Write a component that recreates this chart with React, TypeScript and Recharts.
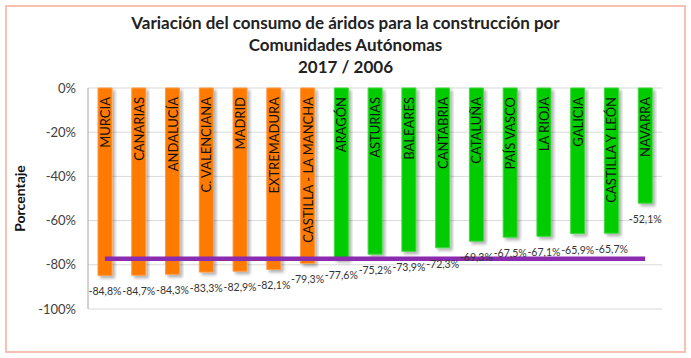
import { Bar, Line, XAxis, YAxis, CartesianGrid, Cell, LabelList, ComposedChart } from 'recharts';

const categories = [
  'MURCIA', 'CANARIAS', 'ANDALUCÍA', 'C. VALENCIANA', 'MADRID', 'EXTREMADURA',
  'CASTILLA - LA MANCHA', 'ARAGÓN', 'ASTURIAS', 'BALEARES', 'CANTABRIA', 'CATALUÑA',
  'PAÍS VASCO', 'LA RIOJA', 'GALICIA', 'CASTILLA Y LEÓN', 'NAVARRA',
];
const variation = [
  -84.8, -84.7, -84.3, -83.3, -82.9, -82.1, -79.3, -77.6, -75.2, -73.9, -72.3, -69.3,
  -67.5, -67.1, -65.9, -65.7, -52.1,
];
// línea horizontal de referencia (media nacional aprox.)
const nationalLine = [
  -77.3, -77.3, -77.3, -77.3, -77.3, -77.3, -77.3, -77.3, -77.3, -77.3, -77.3, -77.3,
  -77.3, -77.3, -77.3, -77.3, -77.3,
];
// true = por debajo de la media (naranja)
const belowAverage = [
  true, true, true, true, true, true, true, false, false, false, false, false,
  false, false, false, false, false,
];
const yTicks = [0, -20, -40, -60, -80, -100];

const data = categories.map((name, i) => ({
  name,
  value: variation[i],
  national: nationalLine[i],
  below: belowAverage[i],
}));

const FONT = 'Lato, "Open Sans", sans-serif';
const PLOT_LEFT = 88;
const PLOT_RIGHT = 662;
const PLOT_TOP = 88;
const PLOT_BOTTOM = 309;
const STEP = (PLOT_RIGHT - PLOT_LEFT) / categories.length;

const fmt = (v: number) => v.toFixed(1).replace('.', ',') + '%';

const CategoryTick = (props: any) => {
  const { x, index } = props;
  const left = x - STEP / 2;
  return (
    <g>
      <line x1={left} x2={left} y1={PLOT_TOP - 4} y2={PLOT_TOP} stroke="#a6a6a6" />
      {index === categories.length - 1 && (
        <line x1={left + STEP} x2={left + STEP} y1={PLOT_TOP - 4} y2={PLOT_TOP} stroke="#a6a6a6" />
      )}
    </g>
  );
};

const NameLabel = (props: any) => {
  const { x, y, width, height, value } = props;
  const top = Math.min(y, y + height);
  const cx = x + width / 2;
  return (
    <text
      x={cx}
      y={top + 9}
      transform={`rotate(-90, ${cx}, ${top + 9})`}
      textAnchor="end"
      dominantBaseline="central"
      fontFamily={FONT}
      fontSize={13}
      fill="#111"
    >
      {value}
    </text>
  );
};

const ValueLabel = (props: any) => {
  const { x, y, width, height, value } = props;
  const bottom = Math.max(y, y + height);
  return (
    <text
      x={x + width / 2}
      y={bottom + 16}
      textAnchor="middle"
      dominantBaseline="central"
      fontFamily={FONT}
      fontSize={10.5}
      fill="#333"
    >
      {fmt(value)}
    </text>
  );
};

export default function App() {
  return (
    <div style={{ position: 'fixed', left: 0, top: 0, width: 691, height: 358, background: '#fff' }}>
      <div
        style={{
          position: 'absolute',
          left: 5,
          top: 5,
          width: 677,
          height: 344,
          border: '2px solid #f8c0b0',
        }}
      />
      <div
        style={{
          position: 'absolute',
          left: 0,
          top: 12,
          width: 691,
          textAlign: 'center',
          fontFamily: FONT,
          fontWeight: 'bold',
          fontSize: 17,
          lineHeight: '22px',
          color: '#222',
        }}
      >
        Variación del consumo de áridos para la construcción por
        <br />
        Comunidades Autónomas
        <br />
        2017 / 2006
      </div>
      <div style={{ position: 'absolute', left: 0, top: 0 }}>
        <ComposedChart
          width={691}
          height={358}
          data={data}
          margin={{ top: PLOT_TOP, right: 691 - PLOT_RIGHT, bottom: 358 - PLOT_BOTTOM, left: 8 }}
        >
          <defs>
            <filter id="barShadow" x="-30%" y="-10%" width="160%" height="120%">
              <feDropShadow dx="2.5" dy="2.5" stdDeviation="1.5" floodColor="#000" floodOpacity="0.3" />
            </filter>
          </defs>
          <CartesianGrid horizontal vertical={false} stroke="#d9d9d9" />
          <XAxis
            dataKey="name"
            orientation="top"
            height={0}
            axisLine={{ stroke: '#a6a6a6' }}
            tickLine={false}
            tick={<CategoryTick />}
            interval={0}
          />
          <YAxis
            domain={[-100, 0]}
            ticks={yTicks}
            width={80}
            tickFormatter={(v: number) => `${v}%`}
            tick={{ fontFamily: FONT, fontSize: 13, fill: '#404040' }}
            axisLine={{ stroke: '#a6a6a6' }}
            tickLine={false}
            tickMargin={6}
            label={{
              value: 'Porcentaje',
              angle: -90,
              position: 'insideLeft',
              offset: 12,
              style: { fontFamily: FONT, fontWeight: 'bold', fontSize: 14, fill: '#111', textAnchor: 'middle' },
            }}
          />
          <Bar dataKey="value" barSize={14} isAnimationActive={false} filter="url(#barShadow)">
            {data.map((d, i) => (
              <Cell
                key={i}
                fill={d.below ? '#ff7a00' : '#00cc00'}
                stroke={d.below ? '#ff9a45' : '#3fd93f'}
              />
            ))}
            <LabelList dataKey="name" content={<NameLabel />} />
            <LabelList dataKey="value" content={<ValueLabel />} />
          </Bar>
          <Line
            dataKey="national"
            stroke="#8a2bb0"
            strokeWidth={4.5}
            dot={false}
            activeDot={false}
            isAnimationActive={false}
          />
        </ComposedChart>
      </div>
    </div>
  );
}
